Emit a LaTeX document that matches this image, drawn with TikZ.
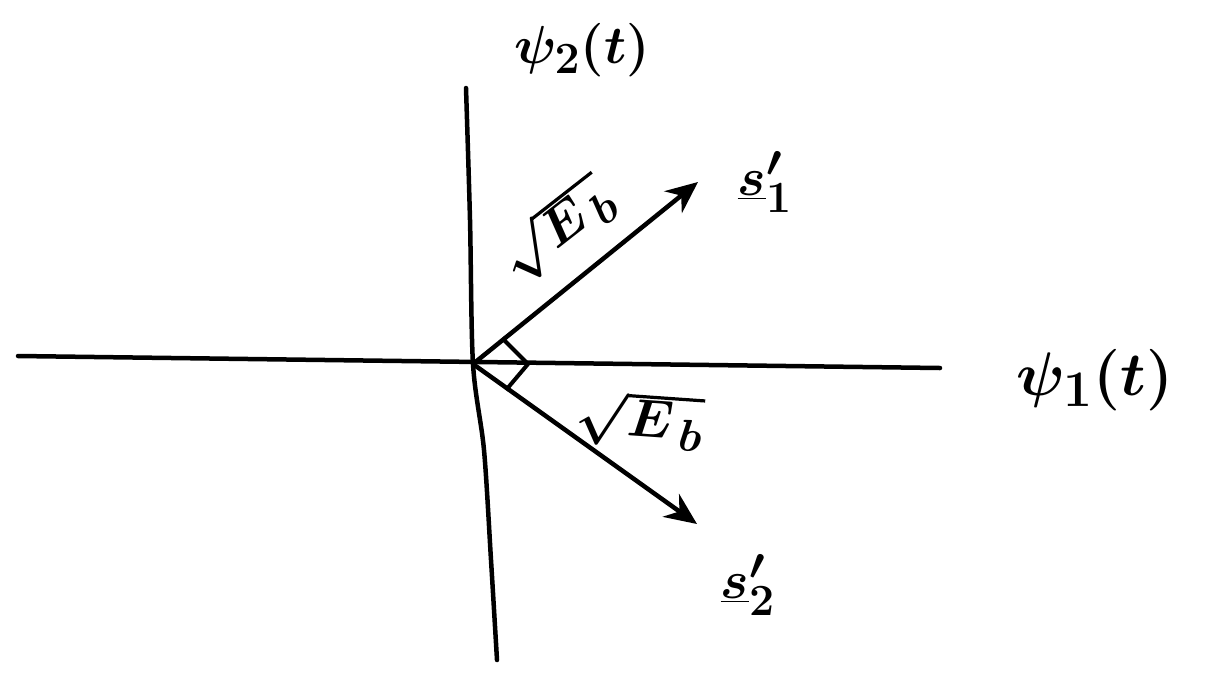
\documentclass[tikz,border=0pt]{standalone}
\usetikzlibrary{arrows.meta}
\begin{document}
\begin{tikzpicture}[x=1pt,y=-1pt,
  axisline/.style={line width=4.5pt, line cap=round},
  vecline/.style={line width=4.5pt, line cap=round, -{Stealth[length=32pt,width=28pt]}},
  anglemark/.style={line width=4pt, line join=round},
  lbl/.style={font=\Huge\boldmath, inner sep=0pt, scale=2.15}]
\useasboundingbox (0,0) rectangle (1217,691);
% coordinates
\coordinate (O) at (473,364);
\coordinate (hL) at (18,356);
\coordinate (hR) at (940,368);
\coordinate (vT) at (466,88);
\coordinate (v1) at (470,220);
\coordinate (v2) at (484,450);
\coordinate (v3) at (491,560);
\coordinate (vB) at (497,660);
\coordinate (A) at (698,182);
\coordinate (B) at (697,524);
\coordinate (m1) at (502,338);
\coordinate (m2) at (528,364);
\coordinate (m3) at (506,390);
% axes
\draw[axisline] (hL) -- (hR);
\draw[axisline] plot[smooth] coordinates {(vT) (v1) (O) (v2) (v3) (vB)};
% vectors
\draw[vecline] (O) -- (A);
\draw[vecline] (O) -- (B);
% angle marks
\draw[anglemark] (m1) -- (m2) -- (m3);
% labels
\node[lbl] (psi2) at (582,50) {$\psi_2(t)$};
\node[lbl, scale=1.15] (psi1) at (1095,380) {$\psi_1(t)$};
\node[lbl] (s1) at (765,182) {$\underline{s}_1'$};
\node[lbl] (s2) at (748,585) {$\underline{s}_2'$};
\node[lbl, rotate=38] (e1) at (556,230) {$\sqrt{E_{\,b}}$};
\node[lbl, rotate=-4] (e2) at (640,420) {$\sqrt{E_{\,b}}$};
\end{tikzpicture}
\end{document}
